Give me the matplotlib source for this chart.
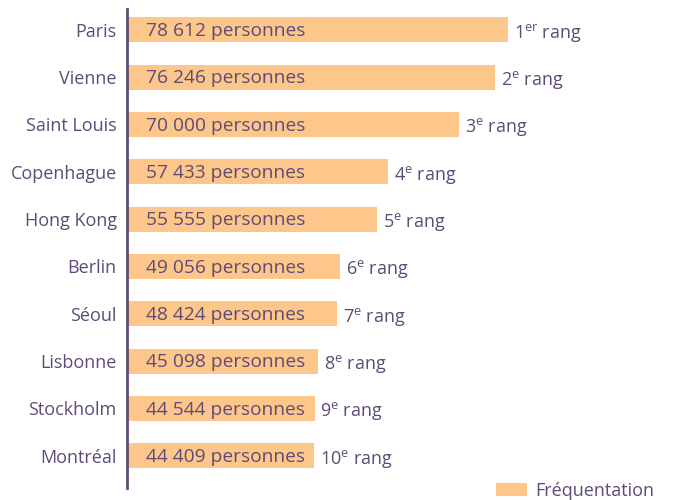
import matplotlib.pyplot as plt
from matplotlib.patches import Patch

# données
villes = ["Paris", "Vienne", "Saint Louis", "Copenhague", "Hong Kong",
          "Berlin", "Séoul", "Lisbonne", "Stockholm", "Montréal"]
frequentation = [78612, 76246, 70000, 57433, 55555,
                 49056, 48424, 45098, 44544, 44409]
rangs = ["1", "2", "3", "4", "5", "6", "7", "8", "9", "10"]
suffixes = ["er", "e", "e", "e", "e", "e", "e", "e", "e", "e"]

violet = "#5e4b78"
orange = "#fdc68a"

plt.rcParams['font.family'] = ['Open Sans', 'DejaVu Sans']
plt.rcParams['mathtext.fontset'] = 'custom'
plt.rcParams['mathtext.rm'] = 'Open Sans'
fs = 13

fig = plt.figure(figsize=(6.77, 5.0), dpi=100)
W, H = 677, 500
ax = fig.add_axes([126.5 / W, 12 / H, 1 - 126.5 / W, 479 / H])

y = list(range(len(villes)))
ax.barh(y, frequentation, height=0.53, color=orange)
ax.set_xlim(11500, 108250)
ax.set_ylim(9.68, -0.44)

for s in ['top', 'right', 'bottom']:
    ax.spines[s].set_visible(False)
ax.spines['left'].set_color(violet)
ax.spines['left'].set_linewidth(2)
ax.spines['left'].set_zorder(5)
ax.set_xticks([])
ax.set_yticks(y)
ax.set_yticklabels(villes, color=violet, fontsize=fs)
ax.tick_params(axis='y', length=0, pad=7)

for i, v in enumerate(frequentation):
    txt = f"{v:,} personnes".replace(",", " ")
    ax.annotate(txt, xy=(0, i), xycoords=ax.get_yaxis_transform(),
                xytext=(14, 0.5), textcoords='offset points',
                va='center_baseline', ha='left', color=violet, fontsize=13.8)
    lab = rangs[i] + r"$^{\mathrm{" + suffixes[i] + "}}$ rang"
    ax.annotate(lab, xy=(v, i), xytext=(4.3, 0), textcoords='offset points',
                va='center_baseline', ha='left', color=violet, fontsize=fs,
                annotation_clip=False)

handle = Patch(facecolor=orange, edgecolor='none', label='Fréquentation')
fig.legend(handles=[handle], loc='center left',
           bbox_to_anchor=(496 / W, 1 - 491 / H), bbox_transform=fig.transFigure,
           frameon=False, borderpad=0, borderaxespad=0,
           handlelength=1.72, handleheight=0.7, handletextpad=0.45,
           prop={'size': fs}, labelcolor=violet)

fig.savefig("out.png", dpi=100)
